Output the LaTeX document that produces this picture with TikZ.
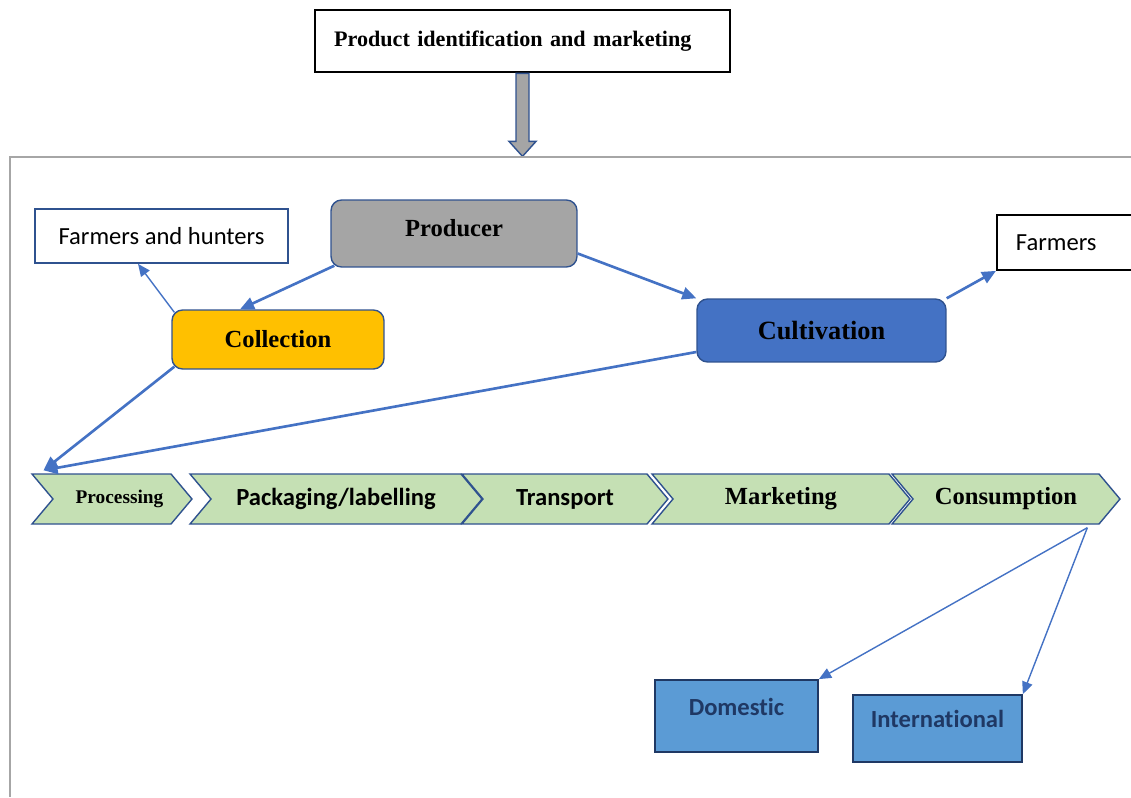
\documentclass[tikz,border=0pt]{standalone}
\usepackage{fontspec}
\setmainfont{Liberation Serif}
\newfontfamily\calibri[Ligatures=NoCommon]{Carlito}
\usetikzlibrary{arrows.meta, positioning, shapes.symbols}
\definecolor{prodgray}{HTML}{A5A5A5}
\definecolor{collgold}{HTML}{FFC000}
\definecolor{cultblue}{HTML}{4472C4}
\definecolor{chevgreen}{HTML}{C5E0B4}
\definecolor{marketblue}{HTML}{5B9BD5}
\definecolor{edgenavy}{HTML}{2F528F}
\definecolor{textnavy}{HTML}{1F3864}
\definecolor{framegray}{HTML}{A6A6A6}

\begin{document}
\begin{tikzpicture}[x=0.02cm, y=-0.02cm,
  stage/.style={rounded corners=6pt, draw=edgenavy, line width=0.8pt, font=\fontsize{14}{16}\selectfont\bfseries},
  source/.style={draw=edgenavy, line width=1pt, font=\calibri\fontsize{14}{16}\selectfont},
  chain/.style={signal, signal from=west, signal to=east, signal pointer angle=100, draw=edgenavy, line width=0.8pt, fill=chevgreen, minimum height=1cm, font=\fontsize{14}{16}\selectfont\bfseries},
  market/.style={draw=textnavy, line width=1pt, fill=marketblue, text=textnavy, font=\calibri\fontsize{14}{16}\selectfont\bfseries},
  flow/.style={cultblue, line width=1.5pt, -{Triangle[length=8pt,width=7pt]}},
  thinflow/.style={cultblue, line width=0.8pt, -{Triangle[length=7pt,width=6pt]}}]
\useasboundingbox (0,0) rectangle (1131,797);

\node[draw, line width=1.6pt, minimum width=8.3cm, minimum height=1.24cm, text width=7.54cm, align=left, text depth=0.1cm, font=\fontsize{12.6}{15}\selectfont\bfseries] (ident) at (522.5,41) {Product identification and marketing};
\draw[edgenavy, fill=prodgray, line width=0.8pt] ([xshift=-0.13cm]ident.south) -- ++(0,68) -- ++(-7,0) -- ++(13.5,15) -- ++(13.5,-15) -- ++(-7,0) -- ++(0,-68) -- cycle;
\draw[framegray, line width=0.8pt] (1131,157) -- (10,157) -- (10,797);

\node[source, minimum width=5.06cm, minimum height=1.08cm] (hunters) at (161.5,236) {Farmers and hunters};
\node[stage, fill=prodgray, minimum width=4.92cm, minimum height=1.34cm, text depth=0.22cm] (prod) at (454,233.5) {Producer};
\node[stage, fill=collgold, minimum width=4.24cm, minimum height=1.18cm] (coll) at (278,339.5) {Collection};
\node[stage, fill=cultblue, minimum width=4.98cm, minimum height=1.26cm, font=\fontsize{15}{17}\selectfont\bfseries] (cult) at (821.5,330.5) {Cultivation};
\node[source, draw=black, anchor=west, minimum width=3.2cm, minimum height=1.1cm, text width=2.5cm, align=left, inner xsep=0.38cm] (farmers) at (996,242.5) {Farmers};

\node[chain, minimum width=3.2cm, font=\fontsize{11}{13}\selectfont\bfseries] (proc) at (112,499) {\hspace{0.3cm}Processing};
\node[chain, minimum width=5.84cm, font=\calibri\fontsize{14}{16}\selectfont\bfseries] (pack) at (336,499) {Packaging/labelling};
\node[chain, minimum width=4.12cm, font=\calibri\fontsize{14}{16}\selectfont\bfseries] (trans) at (565,499) {Transport};
\node[chain, minimum width=5.16cm] (mark) at (781,499) {Marketing};
\node[chain, minimum width=4.56cm] (cons) at (1006,499) {Consumption};

\node[market, minimum width=3.26cm, minimum height=1.44cm, text depth=0.36cm] (dom) at (736.5,716) {Domestic};
\node[market, minimum width=3.38cm, minimum height=1.34cm, text depth=0.4cm] (intl) at (937.5,728.5) {International};

\draw[flow] ([xshift=0.08cm,yshift=0.04cm]prod.south west) -- ([xshift=-0.76cm]coll.north);
\draw[thinflow] ([xshift=0.06cm,yshift=-0.06cm]coll.north west) -- ([xshift=-0.47cm]hunters.south);
\draw[flow] ([yshift=-0.4cm]prod.east) -- (cult.north west);
\draw[flow] (cult.north east) -- (farmers.south west);
\coordinate (procin) at ([xshift=0.26cm,yshift=0.06cm]proc.north west);
\draw[flow] ([xshift=0.06cm,yshift=0.06cm]coll.south west) -- (procin);
\draw[flow] ([yshift=-0.43cm]cult.west) -- (procin);
\coordinate (consout) at ([xshift=-0.24cm,yshift=-0.06cm]cons.south east);
\draw[thinflow] (consout) -- (dom.north east);
\draw[thinflow] (consout) -- (intl.north east);
\end{tikzpicture}
\end{document}
